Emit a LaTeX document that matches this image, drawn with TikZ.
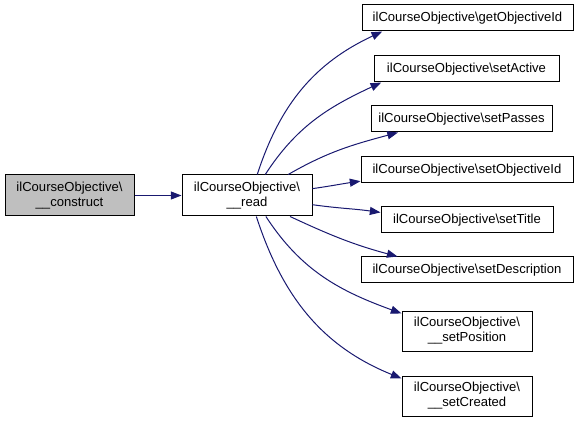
\documentclass[tikz,border=0pt]{standalone}
\usepackage{fontspec}
\setmainfont{Liberation Sans}
\usetikzlibrary{arrows.meta}
\definecolor{edgeblue}{HTML}{191970}

\begin{document}
\begin{tikzpicture}[x=0.75pt,y=0.75pt,>={Triangle[length=8pt,width=6pt]},
    box/.style={shape=rectangle,draw=black,line width=0.75pt,inner sep=0pt,align=center,
        font=\fontsize{9.8}{11.25}\selectfont},
    call/.style={->,draw=edgeblue,line width=0.75pt}]
    \useasboundingbox (0,0) rectangle (579,422);
    \node[box,fill=black!25,minimum width=96.75pt,minimum height=30.75pt] (0) at (69.5,226.5) {ilCourseObjective\textbackslash\\\_\_construct};
    \node[box,minimum width=97.5pt,minimum height=30.75pt] (1) at (247,226.5) {ilCourseObjective\textbackslash\\\_\_read};
    \node[box,minimum width=158.25pt,minimum height=19.5pt] (2) at (467.5,404) {ilCourseObjective\textbackslash getObjectiveId};
    \node[box,minimum width=138.75pt,minimum height=19.5pt] (3) at (466.5,353) {ilCourseObjective\textbackslash setActive};
    \node[box,minimum width=135.75pt,minimum height=19.5pt] (4) at (461.5,303) {ilCourseObjective\textbackslash setPasses};
    \node[box,minimum width=159pt,minimum height=19.5pt] (5) at (467,252) {ilCourseObjective\textbackslash setObjectiveId};
    \node[box,minimum width=129pt,minimum height=19.5pt] (6) at (467,202) {ilCourseObjective\textbackslash setTitle};
    \node[box,minimum width=159pt,minimum height=19.5pt] (7) at (467,152) {ilCourseObjective\textbackslash setDescription};
    \node[box,minimum width=97.5pt,minimum height=30pt] (8) at (467,91) {ilCourseObjective\textbackslash\\\_\_setPosition};
    \node[box,minimum width=97.5pt,minimum height=30pt] (9) at (467,26) {ilCourseObjective\textbackslash\\\_\_setCreated};
    \path[call] (0) -- (1);
    \path[call] (1.64) to[out=72,in=205] (2.189);
    \path[call] (1.49) to[out=57,in=205] (3.189);
    \path[call] (1.27) to[out=30,in=195] (4.192);
    \path[call] (1.6.6) to[out=8,in=188] (5.186);
    \path[call] (1.-8.3) to[out=-8,in=172] (6.175);
    \path[call] (1.-26.6) to[out=-25,in=165] (7.169);
    \path[call] (1.-48.7) to[out=-57,in=160] (8.165);
    \path[call] (1.-66) to[out=-72,in=158] (9.165);
\end{tikzpicture}
\end{document}
